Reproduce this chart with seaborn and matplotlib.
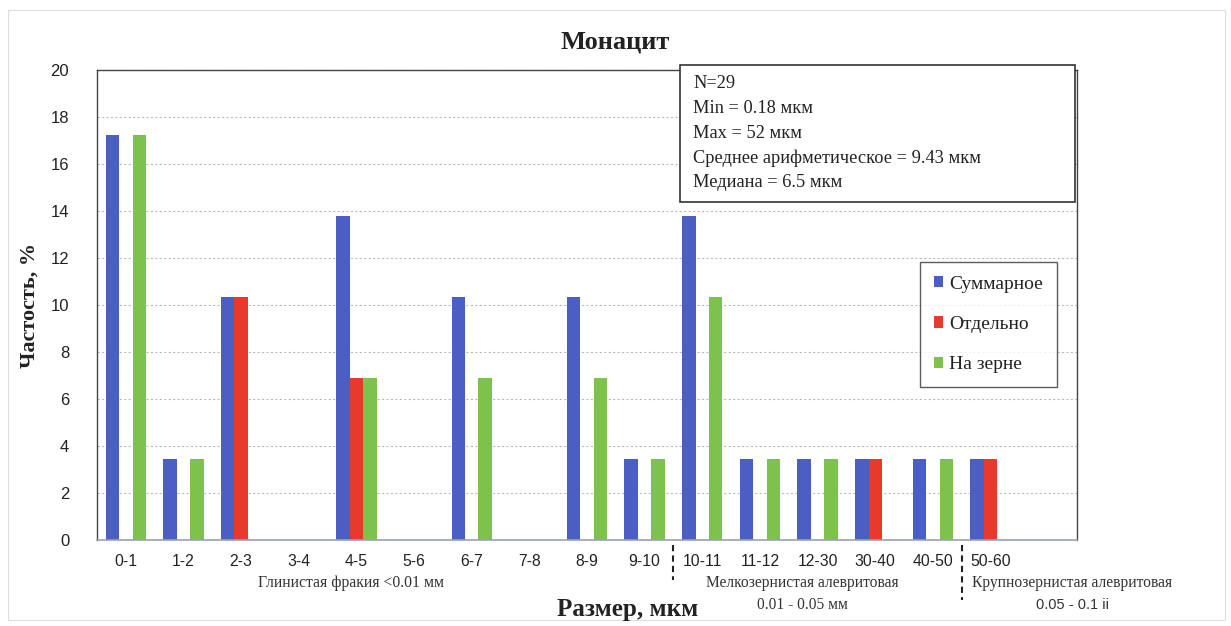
import matplotlib
matplotlib.use("Agg")
import matplotlib.pyplot as plt
from matplotlib.patches import Rectangle, Patch
import seaborn as sns
import pandas as pd

categories = ["0-1", "1-2", "2-3", "3-4", "4-5", "5-6", "6-7", "7-8", "8-9", "9-10",
              "10-11", "11-12", "12-30", "30-40", "40-50", "50-60"]
total = [17.24, 3.45, 10.34, 0, 13.79, 0, 10.34, 0, 10.34, 3.45,
         13.79, 3.45, 3.45, 3.45, 3.45, 3.45]
separate = [0, 0, 10.34, 0, 6.90, 0, 0, 0, 0, 0,
            0, 0, 0, 3.45, 0, 3.45]
on_grain = [17.24, 3.45, 0, 0, 6.90, 0, 6.90, 0, 6.90, 3.45,
            10.34, 3.45, 3.45, 0, 3.45, 0]
series_names = ["Суммарное", "Отдельно", "На зерне"]
colors = ["#4A5EC4", "#E8392D", "#7DC24B"]
stats_lines = ["N=29", "Min = 0.18 мкм", "Max = 52 мкм",
               "Среднее арифметическое = 9.43 мкм", "Медиана = 6.5 мкм"]

rows = []
for name, vals in zip(series_names, [total, separate, on_grain]):
    for c, v in zip(categories, vals):
        rows.append({"cat": c, "series": name, "value": v})
df = pd.DataFrame(rows)

sns.set_theme(style="white")
serif = ["Liberation Serif", "DejaVu Serif"]
sans = ["Liberation Sans", "DejaVu Sans"]
plt.rcParams["font.family"] = sans

fig = plt.figure(figsize=(12.31, 6.26), dpi=100)
ax = fig.add_axes([0.0788, 0.1374, 0.7961, 0.7508])

sns.barplot(data=df, x="cat", y="value", hue="series", order=categories,
            hue_order=series_names, palette=colors, width=0.7, linewidth=0,
            saturation=1, ax=ax, legend=False)

ax.set_xlim(-0.5, 16.5)
ax.set_ylim(0, 20)
ax.set_yticks(range(0, 21, 2))
ax.tick_params(axis="x", labelsize=11.3, colors="#222222", length=0, pad=10)
ax.tick_params(axis="y", labelsize=12, colors="#222222", length=0, pad=20)
ax.set_xlabel("")
ax.set_ylabel("Частость, %", fontsize=16, fontweight="bold", family=serif,
              color="#222222", labelpad=8)
ax.grid(axis="y", color="#bbbbbb", linestyle=(0, (2, 2)), linewidth=0.8)
ax.set_axisbelow(True)
for s in ["left", "right", "top"]:
    ax.spines[s].set_color("#444444")
    ax.spines[s].set_linewidth(1.0)
ax.spines["bottom"].set_color("#9aa0b5")
ax.spines["bottom"].set_linewidth(1.2)

fig.text(0.5, 0.933, "Монацит", ha="center", va="center", fontsize=19,
         fontweight="bold", family=serif, color="#222222")
fig.text(0.51, 0.027, "Размер, мкм", ha="center", va="center", fontsize=18,
         fontweight="bold", family=serif, color="#222222")

# group annotations
fig.text(0.285, 0.068, "Глинистая фракия <0.01 мм", ha="center", va="center",
         fontsize=11.3, family=serif, color="#333333")
fig.text(0.652, 0.068, "Мелкозернистая алевритовая", ha="center", va="center",
         fontsize=11.2, family=serif, color="#333333")
fig.text(0.652, 0.034, "0.01 - 0.05 мм", ha="center", va="center",
         fontsize=11.2, family=serif, color="#333333")
fig.text(0.871, 0.068, "Крупнозернистая алевритовая", ha="center", va="center",
         fontsize=11.2, family=serif, color="#333333")
fig.text(0.871, 0.034, "0.05 - 0.1 ii", ha="center", va="center",
         fontsize=10.5, family=sans, color="#333333")

# dashed separators
ax.plot([9.5, 9.5], [-0.011, -0.085], transform=ax.get_xaxis_transform(),
        color="#222222", linestyle=(0, (3, 2)), linewidth=1.5, clip_on=False)
ax.plot([14.5, 14.5], [-0.011, -0.128], transform=ax.get_xaxis_transform(),
        color="#222222", linestyle=(0, (3, 2)), linewidth=1.5, clip_on=False)

# stats box
bx0, by0, bx1, by1 = 680 / 1231, 1 - 202 / 626, 1075 / 1231, 1 - 65 / 626
fig.patches.append(Rectangle((bx0, by0), bx1 - bx0, by1 - by0, transform=fig.transFigure,
                             facecolor="white", edgecolor="#333333", linewidth=1.2, zorder=5))
for i, line in enumerate(stats_lines):
    y = 1 - (84 + i * 24.6) / 626
    fig.text(693 / 1231, y, line, ha="left", va="center", fontsize=13.2,
             family=serif, color="#222222", zorder=6)

# legend
handles = [Patch(facecolor=c, edgecolor="none") for c in colors]
leg = ax.legend(handles, series_names, loc="upper left",
                bbox_to_anchor=((920 - 97) / 980, (540 - 262) / 470),
                frameon=True, fancybox=False, edgecolor="#333333",
                prop={"family": serif, "size": 14}, handlelength=0.5,
                handleheight=0.5, handletextpad=0.3, labelspacing=1.2,
                borderpad=0.7, borderaxespad=0)
leg.get_frame().set_linewidth(1.0)
for t in leg.get_texts():
    t.set_color("#222222")

# outer frame
fig.patches.append(Rectangle((8 / 1231, 1 - 620 / 626), 1217 / 1231, 610 / 626,
                             transform=fig.transFigure, facecolor="none",
                             edgecolor="#dddddd", linewidth=0.8))

fig.savefig("out.png", dpi=100)
